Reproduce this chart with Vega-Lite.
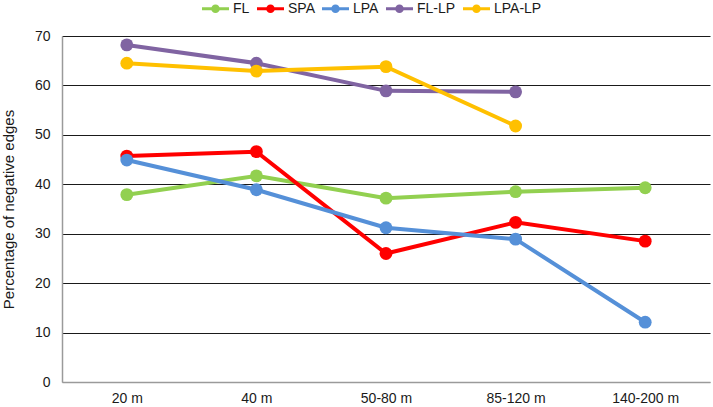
{
  "$schema": "https://vega.github.io/schema/vega-lite/v6.json",
  "width": 648,
  "height": 346,
  "autosize": {"type": "none"},
  "padding": {"left": 62, "top": 36, "right": 3, "bottom": 25},
  "background": "white",
  "config": {
    "font": "Liberation Sans",
    "view": {"stroke": null},
    "axis": {"labelFont": "Liberation Sans", "titleFont": "Liberation Sans", "labelColor": "#1a1a1a", "titleColor": "#1a1a1a"}
  },
  "data": {
    "values": [
      {"dist": "20 m", "series": "FL", "v": 37.9},
      {"dist": "40 m", "series": "FL", "v": 41.7},
      {"dist": "50-80 m", "series": "FL", "v": 37.2},
      {"dist": "85-120 m", "series": "FL", "v": 38.5},
      {"dist": "140-200 m", "series": "FL", "v": 39.3},
      {"dist": "20 m", "series": "SPA", "v": 45.7},
      {"dist": "40 m", "series": "SPA", "v": 46.6},
      {"dist": "50-80 m", "series": "SPA", "v": 26.0},
      {"dist": "85-120 m", "series": "SPA", "v": 32.3},
      {"dist": "140-200 m", "series": "SPA", "v": 28.5},
      {"dist": "20 m", "series": "LPA", "v": 44.9},
      {"dist": "40 m", "series": "LPA", "v": 38.9},
      {"dist": "50-80 m", "series": "LPA", "v": 31.2},
      {"dist": "85-120 m", "series": "LPA", "v": 28.9},
      {"dist": "140-200 m", "series": "LPA", "v": 12.1},
      {"dist": "20 m", "series": "FL-LP", "v": 68.2},
      {"dist": "40 m", "series": "FL-LP", "v": 64.5},
      {"dist": "50-80 m", "series": "FL-LP", "v": 58.9},
      {"dist": "85-120 m", "series": "FL-LP", "v": 58.7},
      {"dist": "20 m", "series": "LPA-LP", "v": 64.5},
      {"dist": "40 m", "series": "LPA-LP", "v": 62.9},
      {"dist": "50-80 m", "series": "LPA-LP", "v": 63.8},
      {"dist": "85-120 m", "series": "LPA-LP", "v": 51.8}
    ]
  },
  "mark": {"type": "line", "strokeWidth": 4, "point": {"filled": true, "size": 165, "opacity": 1}},
  "encoding": {
    "x": {
      "field": "dist", "type": "ordinal",
      "sort": ["20 m", "40 m", "50-80 m", "85-120 m", "140-200 m"],
      "scale": {"type": "point", "padding": 0.5},
      "axis": {"title": null, "labelAngle": 0, "labelFontSize": 14, "ticks": false, "domainColor": "#9a9a9a", "domainWidth": 1.5, "labelPadding": 9, "grid": false}
    },
    "y": {
      "field": "v", "type": "quantitative",
      "scale": {"domain": [0, 70], "nice": false},
      "axis": {
        "title": "Percentage of negative edges", "titleFontSize": 15, "titleFontWeight": "normal",
        "titleX": -46, "titleBaseline": "bottom",
        "values": [0, 10, 20, 30, 40, 50, 60, 70], "labelFontSize": 14, "ticks": false, "labelPadding": 12,
        "domainColor": "#9a9a9a", "domainWidth": 1.5,
        "grid": true, "gridColor": {"condition": {"test": "datum.value === 0", "value": "#9a9a9a"}, "value": "#1a1a1a"}, "gridWidth": 1.2
      }
    },
    "color": {
      "field": "series", "type": "nominal",
      "scale": {"domain": ["FL", "SPA", "LPA", "FL-LP", "LPA-LP"], "range": ["#92D050", "#FF0000", "#5590D8", "#8064A2", "#FFC000"]},
      "legend": {
        "title": null, "orient": "none", "direction": "horizontal", "legendX": 140, "legendY": -41,
        "labelFontSize": 14, "labelColor": "#1a1a1a", "labelOffset": 4, "columnPadding": 7, "padding": 0,
        "symbolType": "M-1,-0.11L1,-0.11L1,0.11L-1,0.11Z M-0.32,0A0.32,0.32 0 1,1 0.32,0A0.32,0.32 0 1,1 -0.32,0Z",
        "symbolSize": 729, "symbolStrokeWidth": 0,
        "encode": {"symbols": {"update": {"fill": {"scale": "color", "field": "value"}, "stroke": {"value": "transparent"}, "opacity": {"value": 1}}}}
      }
    }
  }
}
